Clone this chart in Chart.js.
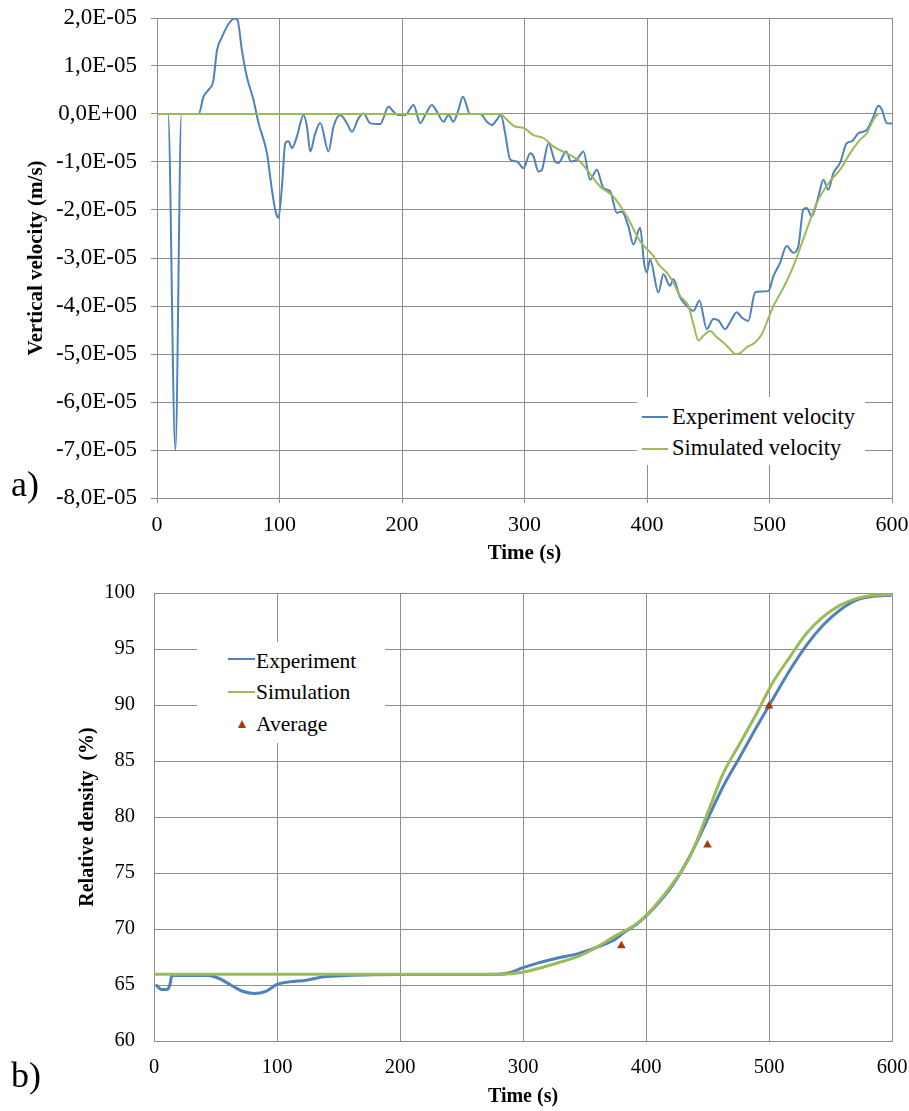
<!DOCTYPE html>
<html>
<head>
<meta charset="utf-8">
<script src="https://cdn.jsdelivr.net/npm/chart.js@4/dist/chart.umd.min.js"></script>
<style>
html,body{margin:0;padding:0;background:#fff;}
#wrap{position:relative;width:909px;height:1111px;overflow:hidden;font-family:"Liberation Serif","Times New Roman",serif;color:#000;}
canvas{position:absolute;left:0;}
#c1{top:0;}
#c2{top:570px;}
.box{position:absolute;background:#fff;}
.txt{position:absolute;white-space:nowrap;line-height:1;}
.ln{position:absolute;height:2px;}
.tri{position:absolute;width:0;height:0;border-left:4px solid transparent;border-right:4px solid transparent;border-bottom:8px solid #a33b0e;}
.lab{position:absolute;font-size:36px;line-height:1;white-space:nowrap;}
</style>
</head>
<body>
<div id="wrap">
  <canvas id="c1" width="909" height="570"></canvas>
  <canvas id="c2" width="909" height="541"></canvas>

  <div class="box" style="left:637px;top:397px;width:228px;height:68px;"></div>
  <div class="ln" style="left:642px;top:416px;width:26px;background:#4f81bd;"></div>
  <div class="txt" style="left:672px;top:406px;font-size:22.5px;">Experiment velocity</div>
  <div class="ln" style="left:642px;top:448px;width:26px;background:#9bbb59;"></div>
  <div class="txt" style="left:672px;top:437px;font-size:22.5px;">Simulated velocity</div>

  <div class="box" style="left:197px;top:642px;width:188px;height:101px;"></div>
  <div class="ln" style="left:228px;top:658px;width:27px;background:#4f81bd;"></div>
  <div class="txt" style="left:256px;top:651px;font-size:21.5px;">Experiment</div>
  <div class="ln" style="left:228px;top:691px;width:27px;background:#9bbb59;"></div>
  <div class="txt" style="left:256px;top:682px;font-size:21.5px;">Simulation</div>
  <div class="tri" style="left:238px;top:720px;"></div>
  <div class="txt" style="left:256px;top:714px;font-size:21.5px;">Average</div>

  <div class="lab" style="left:11px;top:466px;">a)</div>
  <div class="lab" style="left:11px;top:1057px;">b)</div>
</div>
<script>
// ---------- Chart a) : vertical velocity (values in units of 1e-5 m/s) ----------
const VEL_UNIT = 1e-5;
const expVelTime = [0,9,15,20,34,38,42,46,49,53,58.5,63.3,65.8,69.3,73.4,78.8,82.9,89.8,93.8,97.1,99.2,102,104.7,107.4,110.2,114.2,119.6,122.4,125.1,129.2,133.3,140,144.1,149.6,155,159.1,164.5,168.6,174,182.2,189,193,197,202.6,209.4,214.9,219,224.4,228.5,233.9,238,242,246,249.7,255.6,263.8,269.3,273.3,277.4,280.7,284.2,288.3,293.8,299.2,304.6,307.3,311.4,314.2,319.6,325,327.8,334,338,342.7,348.1,353.6,359,364.4,369.9,375.4,379.4,384.8,388.9,394.4,397.6,399.8,402.5,409.3,413.4,418.8,421.5,427,432.5,437.9,442.8,448.8,454.2,458.3,463.7,467.8,473.3,477.4,482.7,488.2,492.3,499.1,503.2,508.6,514,519.5,523.6,527.6,530.4,534.5,539.9,544,548,552.1,557.6,563,567.1,572.6,579.4,584.8,588.8,591.6,595.7,600];
const expVel = [0,0,-7.0,0,0,0.36,0.5,0.7,1.33,1.6,1.88,1.99,1.95,1.33,0.77,0.29,-0.19,-0.82,-1.58,-2.06,-2.16,-1.51,-0.61,-0.57,-0.71,-0.47,-0.02,-0.26,-0.78,-0.4,-0.19,-0.78,-0.26,-0.02,-0.19,-0.37,-0.09,0.01,-0.19,-0.21,0.15,0.05,-0.02,-0.02,0.19,-0.19,-0.02,0.19,0.05,-0.16,-0.02,-0.16,0.08,0.36,0,0,-0.16,-0.23,-0.12,-0.02,-0.4,-0.95,-0.99,-1.13,-0.82,-0.88,-1.2,-1.16,-0.61,-0.99,-1.02,-0.78,-0.99,-0.95,-0.78,-1.37,-1.16,-1.54,-1.61,-2.06,-2.03,-2.34,-2.72,-2.37,-3.1,-3.3,-3.03,-3.72,-3.34,-3.58,-3.44,-3.82,-4.0,-4.1,-3.89,-4.48,-4.27,-4.3,-4.48,-4.34,-4.13,-4.24,-4.31,-3.72,-3.7,-3.69,-3.38,-3.1,-2.75,-2.89,-2.75,-1.99,-1.96,-2.13,-1.72,-1.37,-1.58,-1.23,-1.02,-0.61,-0.57,-0.4,-0.33,-0.06,0.17,0.1,-0.19,-0.2];
const simVelTime = [0,280,285.6,292.4,299.2,307.3,315.5,323.6,334.6,345.4,350.9,361.7,372.6,383.5,394.4,405,410,416,421.5,427,433.8,437.9,442,446,451.5,457,462.3,467.8,471.9,476,481.4,488.2,493.7,497.8,503.2,511.4,519.5,530.4,538.6,549.4,557.6,565.7,573.9,579.4,584.8,589];
const simVel = [0,0,-0.12,-0.26,-0.29,-0.44,-0.5,-0.68,-0.82,-0.99,-1.16,-1.51,-1.72,-2.13,-2.65,-2.95,-3.15,-3.3,-3.51,-3.79,-4.0,-4.38,-4.72,-4.62,-4.52,-4.65,-4.76,-4.9,-5.0,-4.98,-4.86,-4.76,-4.59,-4.34,-4.0,-3.62,-3.17,-2.41,-1.85,-1.4,-1.16,-0.82,-0.54,-0.4,-0.12,0.02];
const velTickValues = [2,1,0,-1,-2,-3,-4,-5,-6,-7,-8];
const velTickLabels = ['2,0E-05','1,0E-05','0,0E+00','-1,0E-05','-2,0E-05','-3,0E-05','-4,0E-05','-5,0E-05','-6,0E-05','-7,0E-05','-8,0E-05'];
const timeTicks = [0,100,200,300,400,500,600];

// ---------- Chart b) : relative density (%) ----------
const expDenTime = [1.4,6,10.8,13,14.6,43.8,53,62.7,72,81.5,91,100.4,109.8,124,138,157,180.5,200,250,280,289,298.3,312.5,326.6,345.5,359.6,373.7,383,392.6,406.7,420.9,435.6,449.2,462.6,476.2,489.8,503.3,516.9,530.4,543.9,557.5,571,584.6,599.5];
const expDen = [65.04,64.6,64.6,65.07,65.88,65.85,65.58,64.98,64.44,64.24,64.44,65.07,65.28,65.43,65.73,65.85,65.91,65.93,65.93,65.95,66.09,66.48,66.98,67.37,67.82,68.35,69.0,69.75,70.44,71.9,73.8,76.5,79.6,82.7,85.34,88.02,90.56,93.1,95.33,97.12,98.46,99.36,99.7,99.8];
const simDenTime = [0,283,298.3,312.5,326.6,345.5,359.6,373.7,392.6,406.7,420.9,435,449.2,462.6,476.2,489.8,503.3,516.9,530.4,543.9,557.5,571,584.6,600];
const simDen = [65.97,65.97,66.12,66.48,66.92,67.58,68.35,69.3,70.5,71.99,73.93,76.3,80.1,83.85,86.54,89.22,92.05,94.28,96.38,97.86,98.9,99.5,99.8,99.85];
const avgTime = [380,450,500];
const avgDen = [68.5,77.5,89.9];
const denTicks = [60,65,70,75,80,85,90,95,100];

const FONT = "'Liberation Serif','Times New Roman',serif";
const GRID = '#8e8e8e';
const BLUE = '#4f81bd';
const GREEN = '#9bbb59';

function pts(xs, ys, k) { return xs.map((x, i) => ({x: x, y: ys[i] * (k || 1)})); }
function fixY(w) { return s => { s.width = w; s.paddingTop = 0; s.paddingBottom = 0; }; }
function fixX(h) { return s => { s.height = h; s.paddingLeft = 0; s.paddingRight = 0; }; }

new Chart(document.getElementById('c1'), {
  type: 'scatter',
  data: {
    datasets: [
      {label: 'Experiment velocity', data: pts(expVelTime, expVel, VEL_UNIT), showLine: true,
       borderColor: BLUE, borderWidth: 2, pointRadius: 0, cubicInterpolationMode: 'monotone', order: 1},
      {label: 'Simulated velocity', data: pts(simVelTime, simVel, VEL_UNIT), showLine: true,
       borderColor: GREEN, borderWidth: 2, pointRadius: 0, cubicInterpolationMode: 'monotone', order: 0}
    ]
  },
  options: {
    responsive: false, animation: false, devicePixelRatio: 1,
    layout: {padding: {top: 18, right: 17, left: 0, bottom: 0}},
    plugins: {legend: {display: false}, tooltip: {enabled: false}},
    scales: {
      x: {
        type: 'linear', min: 0, max: 600,
        afterFit: fixX(72),
        afterBuildTicks: s => { s.ticks = timeTicks.map(v => ({value: v})); },
        ticks: {font: {family: FONT, size: 22}, color: '#000', padding: 9, maxRotation: 0, autoSkip: false},
        grid: {color: GRID, tickLength: 5},
        border: {color: GRID},
        title: {display: true, text: 'Time (s)', color: '#000', font: {family: FONT, size: 21, weight: 'bold'}, padding: {top: 0, bottom: 4}}
      },
      y: {
        type: 'linear', min: -8 * VEL_UNIT, max: 2 * VEL_UNIT,
        afterFit: fixY(157),
        afterBuildTicks: s => { s.ticks = velTickValues.map(v => ({value: v * VEL_UNIT})); },
        ticks: {font: {family: FONT, size: 23}, color: '#000', padding: 14, autoSkip: false,
          callback: (val) => velTickLabels[velTickValues.indexOf(Math.round(val / VEL_UNIT))]},
        grid: {color: GRID, tickLength: 6},
        border: {color: GRID},
        title: {display: true, text: 'Vertical velocity (m/s)', color: '#000', font: {family: FONT, size: 21, weight: 'bold'}, padding: {top: 24, bottom: 0}}
      }
    }
  }
});

new Chart(document.getElementById('c2'), {
  type: 'scatter',
  data: {
    datasets: [
      {label: 'Average', data: pts(avgTime, avgDen), showLine: false, pointStyle: 'triangle',
       pointRadius: 5, backgroundColor: '#a33b0e', borderColor: '#a33b0e', borderWidth: 0, order: 0},
      {label: 'Experiment', data: pts(expDenTime, expDen), showLine: true,
       borderColor: BLUE, borderWidth: 3, pointRadius: 0, cubicInterpolationMode: 'monotone', order: 2},
      {label: 'Simulation', data: pts(simDenTime, simDen), showLine: true,
       borderColor: GREEN, borderWidth: 3, pointRadius: 0, cubicInterpolationMode: 'monotone', order: 1}
    ]
  },
  options: {
    responsive: false, animation: false, devicePixelRatio: 1,
    layout: {padding: {top: 23, right: 17, left: 0, bottom: 0}},
    plugins: {legend: {display: false}, tooltip: {enabled: false}},
    scales: {
      x: {
        type: 'linear', min: 0, max: 600,
        afterFit: fixX(70),
        afterBuildTicks: s => { s.ticks = timeTicks.map(v => ({value: v})); },
        ticks: {font: {family: FONT, size: 20.5}, color: '#000', padding: 14, maxRotation: 0, autoSkip: false},
        grid: {color: GRID, drawTicks: false},
        border: {color: GRID},
        title: {display: true, text: 'Time (s)', color: '#000', font: {family: FONT, size: 20, weight: 'bold'}, padding: {top: 0, bottom: 2}}
      },
      y: {
        type: 'linear', min: 60, max: 100,
        afterFit: fixY(154),
        afterBuildTicks: s => { s.ticks = denTicks.map(v => ({value: v})); },
        ticks: {font: {family: FONT, size: 20.5}, color: '#000', padding: 19, autoSkip: false},
        grid: {color: GRID, drawTicks: false},
        border: {color: GRID},
        title: {display: true, text: 'Relative density  (%)', color: '#000', font: {family: FONT, size: 20, weight: 'bold'}, padding: {top: 76, bottom: 0}}
      }
    }
  }
});
</script>
</body>
</html>
